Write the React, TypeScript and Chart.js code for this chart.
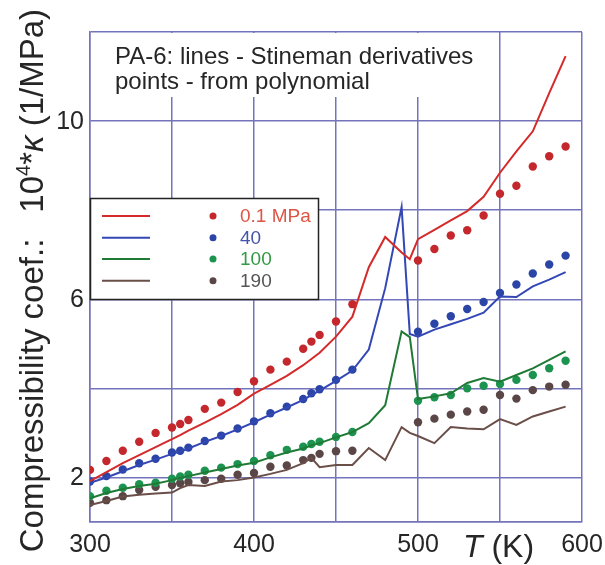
import React, { useEffect, useRef } from 'react';
import { Chart, registerables } from 'chart.js';
Chart.register(...registerables);

const FONT = '"Liberation Sans", Arial, Helvetica, sans-serif';

const pressureLabels = ['0.1 MPa', '40', '100', '190'];

const dotTemps = [300, 310, 320, 330, 340, 350, 355, 360, 370, 380, 390, 400, 410, 420, 430, 435, 440, 450, 460, 500, 510, 520, 530, 540, 550, 560, 570, 580, 590];
const dots01 = [2.17, 2.37, 2.6, 2.8, 3.0, 3.12, 3.2, 3.29, 3.54, 3.68, 3.92, 4.16, 4.42, 4.6, 4.89, 5.05, 5.2, 5.5, 5.89, 6.87, 7.13, 7.43, 7.55, 7.88, 8.37, 8.55, 8.98, 9.21, 9.43];
const dots40 = [1.91, 2.03, 2.18, 2.32, 2.42, 2.56, 2.6, 2.67, 2.82, 2.94, 3.1, 3.26, 3.44, 3.59, 3.76, 3.89, 3.98, 4.19, 4.42, 5.27, 5.45, 5.62, 5.78, 5.94, 6.14, 6.33, 6.58, 6.78, 6.98];
const dots100 = [1.58, 1.7, 1.77, 1.85, 1.88, 1.97, 2.02, 2.06, 2.15, 2.22, 2.3, 2.37, 2.5, 2.62, 2.69, 2.75, 2.8, 2.91, 3.02, 3.72, 3.8, 3.85, 4.0, 4.06, 4.1, 4.19, 4.3, 4.45, 4.62];
const dots190 = [1.43, 1.49, 1.58, 1.72, 1.79, 1.83, 1.87, 1.9, 1.94, 1.97, 2.06, 2.1, 2.24, 2.27, 2.39, 2.44, 2.53, 2.59, 2.6, 3.24, 3.32, 3.41, 3.48, 3.52, 3.85, 3.77, 3.96, 4.04, 4.08];

const lineTemps = [300, 310, 320, 330, 340, 350, 355, 360, 370, 380, 390, 400, 410, 420, 430, 435, 440, 450, 460, 470, 480, 490, 495, 500, 510, 520, 530, 540, 550, 560, 570, 580, 590];
const line01 = [1.92, 2.12, 2.32, 2.5, 2.68, 2.86, 2.95, 3.05, 3.23, 3.42, 3.63, 3.88, 4.08, 4.28, 4.52, 4.66, 4.8, 5.16, 5.61, 6.72, 7.4, 7.05, 6.9, 7.35, 7.56, 7.77, 7.98, 8.3, 8.84, 9.32, 9.77, 10.63, 11.46];
const line40 = [1.88, 2.0, 2.14, 2.28, 2.4, 2.53, 2.58, 2.65, 2.8, 2.93, 3.08, 3.24, 3.41, 3.57, 3.74, 3.85, 3.95, 4.17, 4.4, 4.87, 6.25, 8.07, 5.22, 5.16, 5.32, 5.44, 5.56, 5.7, 6.06, 6.05, 6.29, 6.44, 6.61];
const line100 = [1.53, 1.65, 1.74, 1.81, 1.86, 1.94, 1.99, 2.03, 2.11, 2.19, 2.27, 2.33, 2.45, 2.56, 2.65, 2.72, 2.77, 2.9, 3.02, 3.22, 3.62, 5.28, 5.15, 3.76, 3.82, 3.89, 4.12, 4.23, 4.15, 4.3, 4.45, 4.64, 4.83];
const line190 = [1.38, 1.47, 1.57, 1.61, 1.64, 1.66, 1.76, 1.83, 1.81, 1.91, 1.94, 2.0, 2.08, 2.17, 2.32, 2.44, 2.23, 2.28, 2.28, 2.66, 2.39, 3.13, 3.0, 2.93, 2.77, 3.13, 3.1, 3.08, 3.31, 3.18, 3.37, 3.48, 3.59];

const xGridValues = [300, 350, 400, 450, 500, 550, 600];
const yGridValues = [1, 2, 4, 6, 8, 10, 12];
const xTickLabels = [300, 400, 500, 600];
const yTickLabels = [2, 6, 10];
const titleLines = ['PA-6: lines - Stineman derivatives', 'points - from polynomial'];

const lineColors = ['#d42a2a', '#3347b5', '#1f7a35', '#6a4e48'];
const dotColors = ['#c4282d', '#2b45a6', '#1c9450', '#5a4646'];
const legendTextColors = ['#dd5544', '#4455aa', '#339944', '#555555'];
const GRID = '#7474bb';
const TEXT = '#262626';

export default function App() {
  const ref = useRef<HTMLCanvasElement>(null);

  useEffect(() => {
    document.body.style.margin = '0';
    const canvas = ref.current;
    if (!canvas) return;

    const lineSets = [line01, line40, line100, line190];
    const dotSets = [dots01, dots40, dots100, dots190];
    const datasets: any[] = [];
    lineSets.forEach((vals, i) => {
      datasets.push({
        label: pressureLabels[i] + ' (Stineman)',
        data: lineTemps.map((t, j) => ({ x: t, y: vals[j] })),
        borderColor: lineColors[i],
        backgroundColor: lineColors[i],
        borderWidth: 2,
        pointRadius: 0,
        showLine: true,
        fill: false,
        tension: 0,
      });
    });
    dotSets.forEach((vals, i) => {
      datasets.push({
        label: pressureLabels[i] + ' (polynomial)',
        data: dotTemps.map((t, j) => ({ x: t, y: vals[j] })),
        backgroundColor: dotColors[i],
        borderColor: dotColors[i],
        borderWidth: 0,
        pointRadius: 4.2,
        showLine: false,
      });
    });

    const deco = {
      id: 'deco',
      beforeDatasetsDraw(chart: any) {
        const { ctx, chartArea } = chart;
        ctx.save();
        ctx.fillStyle = '#ffffff';
        ctx.fillRect(chartArea.left + 1, chartArea.top + 1, 486 - chartArea.left, 97 - chartArea.top - 1);
        ctx.restore();
      },
      afterDraw(chart: any) {
        const { ctx, chartArea } = chart;
        const xs = chart.scales.x;
        const ys = chart.scales.y;
        ctx.save();
        // in-plot title
        ctx.fillStyle = TEXT;
        ctx.font = `24px ${FONT}`;
        ctx.textAlign = 'left';
        ctx.textBaseline = 'alphabetic';
        ctx.fillText(titleLines[0], 115, 64);
        ctx.fillText(titleLines[1], 115, 89);

        // legend box
        const bx = 90.5, by = 198.5, bw = 228, bh = 101;
        ctx.fillStyle = '#ffffff';
        ctx.fillRect(bx, by, bw, bh);
        ctx.strokeStyle = '#222222';
        ctx.lineWidth = 1.5;
        ctx.strokeRect(bx, by, bw, bh);
        const rows = [216, 237.7, 259, 280.7];
        pressureLabels.forEach((lab, i) => {
          const y = rows[i];
          ctx.strokeStyle = lineColors[i];
          ctx.lineWidth = 2;
          ctx.beginPath();
          ctx.moveTo(102, y);
          ctx.lineTo(150, y);
          ctx.stroke();
          ctx.fillStyle = dotColors[i];
          ctx.beginPath();
          ctx.arc(213, y, 3.5, 0, Math.PI * 2);
          ctx.fill();
          ctx.fillStyle = legendTextColors[i];
          ctx.font = `19px ${FONT}`;
          ctx.textBaseline = 'middle';
          ctx.fillText(lab, 240, y + 1);
        });

        // tick labels
        ctx.fillStyle = TEXT;
        ctx.font = `25px ${FONT}`;
        ctx.textBaseline = 'middle';
        ctx.textAlign = 'center';
        xTickLabels.forEach((v) => {
          ctx.fillText(String(v), xs.getPixelForValue(v), 545);
        });
        ctx.textAlign = 'right';
        yTickLabels.forEach((v) => {
          ctx.fillText(String(v), chartArea.left - 6, ys.getPixelForValue(v) + 1);
        });

        // x title: T (K)
        ctx.textAlign = 'left';
        ctx.font = `italic 32px ${FONT}`;
        let xp = 463;
        ctx.fillText('T', xp, 548);
        xp += ctx.measureText('T').width;
        ctx.font = `32px ${FONT}`;
        ctx.fillText(' (K)', xp, 548);

        // y title (rotated); local x = -screenY
        ctx.translate(34, 0);
        ctx.rotate(-Math.PI / 2);
        ctx.textAlign = 'left';
        ctx.textBaseline = 'middle';
        const big = `33px ${FONT}`;
        const sup = `20px ${FONT}`;
        const ital = `italic 33px ${FONT}`;
        const runs: [string, string, number][] = [
          ['10', big, 0],
          ['4', sup, -10],
          ['*', big, 0],
          ['\u03ba', ital, 0],
          [' (1/MPa)', big, 0],
        ];
        let total = 0;
        runs.forEach(([t, f]) => {
          ctx.font = f;
          total += ctx.measureText(t).width;
        });
        let pos = -(9 + total);
        runs.forEach(([t, f, dy]) => {
          ctx.font = f;
          ctx.fillText(t, pos, dy);
          pos += ctx.measureText(t).width;
        });
        ctx.font = big;
        const leftPart = 'Compressibility coef.:';
        const lw = ctx.measureText(leftPart).width;
        ctx.fillText(leftPart, -(9 + total + 26 + lw), 0);
        ctx.restore();
      },
    };

    const chart = new Chart(canvas, {
      type: 'scatter',
      data: { datasets },
      options: {
        animation: false,
        responsive: false,
        devicePixelRatio: 1,
        layout: { padding: { top: 32, right: 23, left: 0, bottom: 0 } },
        plugins: { legend: { display: false }, tooltip: { enabled: false }, title: { display: false } },
        scales: {
          x: {
            type: 'linear',
            min: 300,
            max: 600,
            afterBuildTicks: (s: any) => {
              s.ticks = xGridValues.map((v) => ({ value: v }));
            },
            afterFit: (s: any) => {
              s.height = 43;
            },
            ticks: { display: false },
            grid: { color: GRID, lineWidth: 1.5, drawTicks: false },
            border: { display: true, color: GRID, width: 1.5 },
          },
          y: {
            type: 'linear',
            min: 1,
            max: 12,
            afterBuildTicks: (s: any) => {
              s.ticks = yGridValues.map((v) => ({ value: v }));
            },
            afterFit: (s: any) => {
              s.width = 90;
            },
            ticks: { display: false },
            grid: { color: GRID, lineWidth: 1.5, drawTicks: false },
            border: { display: true, color: GRID, width: 1.5 },
          },
        },
      },
      plugins: [deco],
    });
    return () => chart.destroy();
  }, []);

  return <canvas ref={ref} width={605} height={565} style={{ display: 'block' }} />;
}
